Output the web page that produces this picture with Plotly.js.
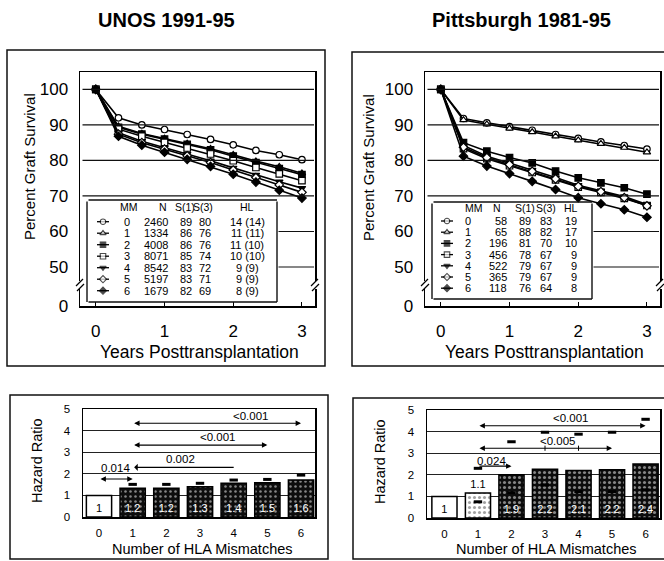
<!DOCTYPE html>
<html><head><meta charset="utf-8">
<script src="https://cdn.plot.ly/plotly-3.0.1.min.js"></script>
<style>html,body{margin:0;padding:0;background:#fff}#chart{width:664px;height:561px}</style>
</head><body><div id="chart"></div>
<script>
// ---------------- DATA ----------------
const years = [0, 0.33, 0.67, 1, 1.33, 1.67, 2, 2.33, 2.67, 3];
const mmLabels = ['0','1','2','3','4','5','6'];

const unosMM0 = [100, 92.0, 90.0, 88.7, 87.3, 85.9, 84.4, 82.8, 81.6, 80.2];
const unosMM1 = [100, 89.6, 87.6, 86.2, 84.8, 83.3, 81.6, 79.8, 78.2, 76.4];
const unosMM2 = [100, 89.3, 87.4, 86.0, 84.5, 83.0, 81.2, 79.4, 77.7, 76.0];
const unosMM3 = [100, 88.8, 86.8, 85.1, 83.5, 81.8, 79.9, 78.0, 76.2, 74.3];
const unosMM4 = [100, 87.8, 85.4, 83.6, 81.8, 79.9, 77.9, 75.9, 74.0, 72.2];
const unosMM5 = [100, 87.4, 85.0, 83.2, 81.3, 79.4, 77.3, 75.2, 73.1, 71.0];
const unosMM6 = [100, 86.8, 84.3, 82.3, 80.3, 78.3, 76.1, 73.9, 71.6, 69.4];

const pittMM0 = [100, 91.8, 90.6, 89.5, 88.5, 87.3, 86.2, 85.2, 84.2, 83.2];
const pittMM1 = [100, 91.4, 90.2, 89.0, 88.0, 86.8, 85.7, 84.7, 83.6, 82.3];
const pittMM2 = [100, 85.0, 82.6, 80.8, 79.3, 77.0, 75.1, 73.7, 72.3, 70.5];
const pittMM3 = [100, 83.3, 80.5, 78.5, 76.6, 74.5, 72.5, 71.0, 69.3, 67.3];
const pittMM4 = [100, 84.2, 81.2, 79.2, 77.3, 75.2, 73.0, 71.4, 69.8, 67.6];
const pittMM5 = [100, 83.7, 80.8, 78.8, 76.9, 74.8, 72.7, 71.2, 69.5, 67.2];
const pittMM6 = [100, 81.2, 78.4, 76.3, 74.1, 71.8, 69.5, 67.8, 66.1, 64.0];

const unosN  = ['2460','1334','4008','8071','8542','5197','1679'];
const unosS1 = ['89','86','86','85','83','83','82'];
const unosS3 = ['80','76','76','74','72','71','69'];
const unosHL = ['14 (14)','11 (11)','11 (10)','10 (10)','9 (9)','9 (9)','8 (9)'];

const pittN  = ['58','65','196','456','522','365','118'];
const pittS1 = ['89','88','81','78','79','79','76'];
const pittS3 = ['83','82','70','67','67','67','64'];
const pittHL = ['19','17','10','9','9','9','8'];

const survTicks = [39, 50, 60, 70, 80, 90, 100];
const survTickText = ['0','50','60','70','80','90','100'];
const survGrid = [50, 60, 70, 80, 90, 100];
const yearTicks = [0, 1, 2, 3];

const hlaMM = [0, 1, 2, 3, 4, 5, 6];
const unosHR = [1, 1.33, 1.33, 1.4, 1.56, 1.59, 1.71];
const unosHRText = ['1','1.2','1.2','1.3','1.4','1.5','1.6'];
const unosUpper = [null, 1.51, 1.51, 1.56, 1.71, 1.74, 1.94];
const pittHR = [1, 1.16, 2.0, 2.26, 2.2, 2.23, 2.5];
const pittHRText = ['1','1.1','1.9','2.2','2.1','2.2','2.4'];
const pittUpper = [null, 2.3, 3.53, 3.97, 3.88, 3.97, 4.57];
const pittLower = [null, 0.75, 1.17, 1.53, 1.22, 1.22, 1.3];

const unosPLabel = ['0.014','0.002','<0.001','<0.001'];
const unosPFrom  = [0, 1, 1, 1];
const unosPTo    = [1, 4, 5, 6];
const unosPLevel = [1.76, 2.3, 3.33, 4.34];
const pittPLabel = ['0.024','<0.005','<0.001'];
const pittPFrom  = [1, 1, 1];
const pittPTo    = [2, 5, 6];
const pittPLevel = [2.4, 3.23, 4.27];

// ---------------- LAYOUT HELPERS ----------------
const W = 664, H = 561;
const FONT = 'Liberation Sans, Arial, Helvetica, sans-serif';
const px = x => x / W;
const py = y => 1 - y / H;

const geo = {
  tl: {x0: 80,  x1: 315, y0: 72,  y1: 306, xr: [-0.23, 3.19], yr: [39, 104.9]},
  tr: {x0: 425, x1: 660, y0: 72,  y1: 306, xr: [-0.23, 3.19], yr: [39, 104.9]},
  bl: {x0: 83,  x1: 315, y0: 409, y1: 517, xr: [-0.475, 6.415], yr: [0, 5]},
  br: {x0: 427, x1: 660, y0: 410, y1: 518, xr: [-0.52, 6.43], yr: [0, 5]}
};
const dx = (g, p) => g.xr[0] + (p - g.x0) / (g.x1 - g.x0) * (g.xr[1] - g.xr[0]);
const dy = (g, p) => g.yr[0] + (g.y1 - p) / (g.y1 - g.y0) * (g.yr[1] - g.yr[0]);

const symbols = ['circle','triangle-up','square','square','triangle-down','diamond','diamond'];
const filled  = [false, false, true, false, true, false, true];

const traces = [];
const shapes = [];
const annotations = [];

function ann(text, x, y, opts) {
  annotations.push(Object.assign({
    text: text, x: px(x), y: py(y), xref: 'paper', yref: 'paper',
    showarrow: false, xanchor: 'center', yanchor: 'middle',
    font: {family: FONT, size: 11.5, color: '#000'}
  }, opts || {}));
}
// straight paper-space segment (page pixels) drawn as an arrow-less annotation
function pseg(x0, y0, x1, y1, w) {
  annotations.push({xref: 'paper', yref: 'paper', x: px(x1), y: py(y1),
    ax: x0 - x1, ay: y0 - y1, axref: 'pixel', ayref: 'pixel',
    text: '', showarrow: true, arrowhead: 0, arrowwidth: w, arrowcolor: '#111',
    standoff: 0, startstandoff: 0});
}
const ypx = (g, v) => g.y1 - (v - g.yr[0]) / (g.yr[1] - g.yr[0]) * (g.y1 - g.y0);

function survivalPanel(series, g, xa, ya, tbl) {
  const b = tbl.box;
  // grid lines; the ones behind the legend table start at its right edge
  survGrid.forEach(v => {
    const yy = ypx(g, v);
    const start = (yy > b[2] && yy < b[3]) ? b[1] : g.x0 + 1;
    pseg(start, yy, g.x1 - 1, yy, 1.1);
  });
  // legend table frame
  pseg(b[0], b[2], b[1], b[2], 1.4);
  pseg(b[0], b[3], b[1], b[3], 1.4);
  pseg(b[0], b[2], b[0], b[3], 1.4);
  pseg(b[1], b[2], b[1], b[3], 1.4);

  series.forEach((s, i) => {
    traces.push({
      type: 'scatter', mode: 'lines+markers', x: years, y: s, xaxis: xa, yaxis: ya,
      line: {color: '#000', width: 1.6},
      marker: {symbol: symbols[i], size: 6.5, color: filled[i] ? '#000' : '#fff',
               line: {color: '#000', width: 1.2}},
      cliponaxis: false, hoverinfo: 'skip'
    });
  });
  const hdr = ['MM','N','S(1)','S(3)','HL'];
  hdr.forEach((h, k) => ann(h, tbl.hx[k], tbl.hy, {font: {family: FONT, size: 10.5, color: '#000'}}));
  const cols = [mmLabels, tbl.n, tbl.s1, tbl.s3, tbl.hl];
  for (let i = 0; i < 7; i++) {
    const ry = tbl.ry0 + i * tbl.rstep;
    cols.forEach((c, k) => ann(c[i], tbl.vx[k], ry, {xanchor: tbl.va[k], font: {family: FONT, size: 11, color: '#000'}}));
    const mx = tbl.mx;
    traces.push({
      type: 'scatter', mode: 'lines+markers', xaxis: xa, yaxis: ya,
      x: [dx(g, mx - 6), dx(g, mx), dx(g, mx + 6)], y: [dy(g, ry), dy(g, ry), dy(g, ry)],
      line: {color: '#000', width: 1.3},
      marker: {symbol: symbols[i], size: [0, 5.5, 0], color: filled[i] ? '#000' : '#fff',
               line: {color: '#000', width: [0, 1.1, 0]}},
      hoverinfo: 'skip'
    });
  }
  // axis break marks
  [g.x0, g.x1].forEach(xx => {
    shapes.push({type: 'rect', xref: 'paper', yref: 'paper', x0: px(xx - 4), x1: px(xx + 4),
      y0: py(289), y1: py(281), fillcolor: '#fff', line: {width: 0}, layer: 'above'});
    shapes.push({type: 'line', xref: 'paper', yref: 'paper', x0: px(xx - 4), x1: px(xx + 3),
      y0: py(286), y1: py(279), line: {color: '#000', width: 1.2}, layer: 'above'});
    shapes.push({type: 'line', xref: 'paper', yref: 'paper', x0: px(xx - 3), x1: px(xx + 4),
      y0: py(291), y1: py(284), line: {color: '#000', width: 1.2}, layer: 'above'});
  });
}

survivalPanel([unosMM0, unosMM1, unosMM2, unosMM3, unosMM4, unosMM5, unosMM6], geo.tl, 'x', 'y', {
  box: [87, 277, 200, 302], hx: [129, 163, 185, 203, 247], hy: 207,
  vx: [127, 170, 186, 205, 247], va: ['center','right','center','center','center'],
  ry0: 221.7, rstep: 11.5, mx: 103,
  n: unosN, s1: unosS1, s3: unosS3, hl: unosHL
});
survivalPanel([pittMM0, pittMM1, pittMM2, pittMM3, pittMM4, pittMM5, pittMM6], geo.tr, 'x2', 'y2', {
  box: [432, 592, 202, 299], hx: [474, 497, 525, 546, 571], hy: 208,
  vx: [468, 509, 525, 546, 579], va: ['center','right','center','center','right'],
  ry0: 221, rstep: 11.2, mx: 447,
  n: pittN, s1: pittS1, s3: pittS3, hl: pittHL
});

function hazardPanel(hr, txt, upper, lower, xa, ya, style) {
  traces.push({
    type: 'bar', x: hlaMM, y: hr, xaxis: xa, yaxis: ya, width: 0.75,
    text: txt, textposition: style.tpos, insidetextanchor: 'start',
    textfont: {family: FONT, size: 11, color: style.tcol}, constraintext: 'none',
    cliponaxis: false, textangle: 0,
    marker: {color: style.base, line: {color: '#000', width: 1.5},
      pattern: {shape: style.pshape, fillmode: 'overlay', fgcolor: style.pfg,
                size: style.psize, solidity: style.psol}},
    hoverinfo: 'skip'
  });
  traces.push({
    type: 'scatter', mode: 'markers', x: hlaMM, y: upper, xaxis: xa, yaxis: ya,
    marker: {symbol: 'line-ew', size: 6, line: {color: '#000', width: 3}}, hoverinfo: 'skip'
  });
  if (lower) traces.push({
    type: 'scatter', mode: 'markers', x: hlaMM, y: lower, xaxis: xa, yaxis: ya,
    marker: {symbol: 'line-ew', size: 6, line: {color: '#000', width: 3}}, hoverinfo: 'skip'
  });
}

hazardPanel(unosHR, unosHRText, unosUpper, null, 'x3', 'y3', {
  tpos: ['inside','inside','inside','inside','inside','inside','inside'],
  tcol: ['#000','#fff','#fff','#fff','#fff','#fff','#fff'],
  base: ['#fff','#0d0d0d','#0d0d0d','#0d0d0d','#0d0d0d','#0d0d0d','#0d0d0d'],
  pshape: ['','.','.','.','.','.','.'],
  pfg: ['#fff','#cfcfcf','#cfcfcf','#cfcfcf','#cfcfcf','#cfcfcf','#cfcfcf'],
  psize: 5, psol: 0.2
});
hazardPanel(pittHR, pittHRText, pittUpper, pittLower, 'x4', 'y4', {
  tpos: ['inside','outside','inside','inside','inside','inside','inside'],
  tcol: ['#000','#000','#fff','#fff','#fff','#fff','#fff'],
  base: ['#fff','#fff','#0d0d0d','#0d0d0d','#0d0d0d','#0d0d0d','#0d0d0d'],
  pshape: ['','.','.','.','.','.','.'],
  pfg: ['#fff','#333','#e0e0e0','#e0e0e0','#e0e0e0','#e0e0e0','#e0e0e0'],
  psize: 5, psol: 0.3
});

function pvals(labels, from, to, level, heads, lpos, xa, ya) {
  labels.forEach((t, i) => {
    annotations.push({xref: xa, yref: ya, axref: xa, ayref: ya, x: to[i], y: level[i],
      ax: from[i], ay: level[i], text: '', showarrow: true, arrowhead: 2, arrowsize: 0.9,
      arrowwidth: 1.2, arrowcolor: '#000', arrowside: heads[i], standoff: 0, startstandoff: 0});
    annotations.push({xref: xa, yref: ya, x: lpos[i][0], y: lpos[i][1], text: t, showarrow: false,
      xanchor: 'center', yanchor: 'middle', font: {family: FONT, size: 11.5, color: '#000'}});
  });
}
pvals(unosPLabel, unosPFrom, unosPTo, unosPLevel, ['end+start','start','end+start','end+start'],
  [[0.5, 2.25], [2.43, 2.69], [3.52, 3.69], [4.5, 4.68]], 'x3', 'y3');
pvals(pittPLabel, pittPFrom, pittPTo, pittPLevel, ['end','end+start','end+start'],
  [[1.41, 2.64], [3.39, 3.56], [3.78, 4.64]], 'x4', 'y4');
[3, 4].forEach(v => shapes.push({type: 'line', xref: 'x4', yref: 'y4', x0: v, x1: v,
  y0: pittPLevel[1] - 0.12, y1: pittPLevel[1] + 0.12, line: {color: '#000', width: 1}, layer: 'above'}));

// outer panel frames
[[7, 325, 50, 366], [352, 667, 52, 366], [10, 328, 395, 559], [353, 667, 398, 559]].forEach(b =>
  shapes.push({type: 'rect', xref: 'paper', yref: 'paper', x0: px(b[0]), x1: px(b[1]),
    y0: py(b[3]), y1: py(b[2]), line: {color: '#111', width: 1.5}, layer: 'above'}));

// titles
ann('<b>UNOS 1991-95</b>', 166, 20, {font: {family: FONT, size: 20, color: '#000'}});
ann('<b>Pittsburgh 1981-95</b>', 521, 20, {font: {family: FONT, size: 20, color: '#000'}});
ann('Percent Graft Survival', 30, 167, {textangle: -90, font: {family: FONT, size: 15, color: '#000'}});
ann('Percent Graft Survival', 368, 168, {textangle: -90, font: {family: FONT, size: 15, color: '#000'}});
ann('Years Posttransplantation', 199, 352, {font: {family: FONT, size: 17.5, color: '#000'}});
ann('Years Posttransplantation', 544, 352, {font: {family: FONT, size: 17.5, color: '#000'}});
ann('Hazard Ratio', 37, 461, {textangle: -90, font: {family: FONT, size: 14.5, color: '#000'}});
ann('Hazard Ratio', 380, 462, {textangle: -90, font: {family: FONT, size: 14.5, color: '#000'}});
ann('Number of HLA Mismatches', 202, 549, {font: {family: FONT, size: 14.5, color: '#000'}});
ann('Number of HLA Mismatches', 546, 549, {font: {family: FONT, size: 14.5, color: '#000'}});

// axes
function xAxisTop(g, anchor) {
  return {domain: [px(g.x0), px(g.x1)], range: g.xr, anchor: anchor, tickvals: yearTicks,
    ticks: 'inside', ticklen: 4, tickcolor: '#000', showgrid: false, zeroline: false,
    showline: true, mirror: true, linecolor: '#000', linewidth: 1.5,
    tickfont: {family: FONT, size: 17, color: '#000'}, ticklabelstandoff: 9, fixedrange: true};
}
function yAxisTop(g, anchor) {
  return {domain: [py(g.y1), py(g.y0)], range: g.yr, anchor: anchor, tickvals: survTicks,
    ticktext: survTickText, ticks: '', showgrid: false, zeroline: false,
    showline: true, mirror: true, linecolor: '#000', linewidth: 1.5,
    tickfont: {family: FONT, size: 17, color: '#000'}, ticklabelstandoff: 7, fixedrange: true};
}
function xAxisBot(g, anchor) {
  return {domain: [px(g.x0), px(g.x1)], range: g.xr, anchor: anchor, tickvals: hlaMM,
    ticks: '', showgrid: false, zeroline: false,
    showline: true, mirror: true, linecolor: '#000', linewidth: 1.5,
    tickfont: {family: FONT, size: 11.5, color: '#000'}, ticklabelstandoff: 5, fixedrange: true};
}
function yAxisBot(g, anchor) {
  return {domain: [py(g.y1), py(g.y0)], range: g.yr, anchor: anchor, tickvals: [0,1,2,3,4,5],
    ticks: '', showgrid: true, gridcolor: '#222', gridwidth: 1, zeroline: false,
    showline: true, mirror: true, linecolor: '#000', linewidth: 1.5,
    tickfont: {family: FONT, size: 11.5, color: '#000'}, ticklabelstandoff: 9, fixedrange: true};
}

const layout = {
  width: W, height: H, margin: {l: 0, r: 0, t: 0, b: 0},
  paper_bgcolor: '#fff', plot_bgcolor: '#fff', showlegend: false,
  font: {family: FONT, color: '#000'},
  xaxis: xAxisTop(geo.tl, 'y'), yaxis: yAxisTop(geo.tl, 'x'),
  xaxis2: xAxisTop(geo.tr, 'y2'), yaxis2: yAxisTop(geo.tr, 'x2'),
  xaxis3: xAxisBot(geo.bl, 'y3'), yaxis3: yAxisBot(geo.bl, 'x3'),
  xaxis4: xAxisBot(geo.br, 'y4'), yaxis4: yAxisBot(geo.br, 'x4'),
  barmode: 'overlay',
  shapes: shapes, annotations: annotations
};

Plotly.newPlot('chart', traces, layout, {staticPlot: true, displayModeBar: false});
</script></body></html>
